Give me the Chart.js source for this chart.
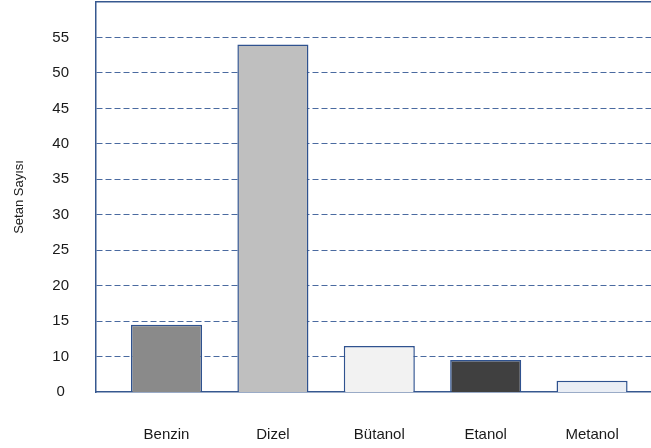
<!DOCTYPE html>
<html>
<head>
<meta charset="utf-8">
<script src="https://cdn.jsdelivr.net/npm/chart.js@4"></script>
<style>
  html, body { margin: 0; padding: 0; background: #ffffff; }
  #wrap { width: 651px; height: 448px; }
</style>
</head>
<body>
<div id="wrap"><canvas id="c" width="651" height="448"></canvas></div>
<script>
// Setan sayıları (cetane numbers) of the fuels
const categories = ['Benzin', 'Dizel', 'Bütanol', 'Etanol', 'Metanol'];
const cetaneValues = [14.5, 54, 11.5, 9.5, 6.6];
const barColors = ['#8a8a8a', '#bfbfbf', '#f2f2f2', '#404040', '#eaeef5'];
const yTicks = [5, 10, 15, 20, 25, 30, 35, 40, 45, 50, 55, 60];
// the lowest gridline carries the label "0"
const yTickLabels = ['0', '10', '15', '20', '25', '30', '35', '40', '45', '50', '55', ''];

const lineBlue = '#37588f';
const gridBlue = '#4a6aa0';
const font = 'Liberation Sans, Arial, sans-serif';

const points = cetaneValues.map((v, i) => ({ x: i, y: v }));

new Chart(document.getElementById('c'), {
  type: 'bar',
  data: {
    datasets: [{
      data: points,
      backgroundColor: barColors,
      borderColor: '#2f528f',
      borderWidth: 1.5,
      categoryPercentage: 1,
      barPercentage: 0.668
    }]
  },
  options: {
    responsive: false,
    animation: false,
    devicePixelRatio: 1,
    layout: { padding: { left: 6, top: 2, right: 0, bottom: 4 } },
    plugins: { legend: { display: false }, tooltip: { enabled: false } },
    scales: {
      x: {
        type: 'linear',
        position: 'bottom',
        min: -0.663,
        max: 4.554,
        offset: false,
        afterBuildTicks: (scale) => { scale.ticks = categories.map((_, i) => ({ value: i })); },
        afterFit: (scale) => { scale.height = 52; scale.paddingLeft = 0; scale.paddingRight = 0; },
        grid: { display: false, drawTicks: false },
        border: { display: true, color: lineBlue, width: 1.5 },
        ticks: {
          autoSkip: false,
          maxRotation: 0,
          padding: 34,
          color: '#1a1a1a',
          font: { family: font, size: 15 },
          callback: (v) => categories[v] ?? ''
        }
      },
      xTop: {
        type: 'linear',
        position: 'top',
        offset: false,
        grid: { display: false, drawTicks: false },
        ticks: { display: false },
        border: { display: true, color: lineBlue, width: 1.5 }
      },
      y: {
        type: 'linear',
        min: 5,
        max: 60,
        afterBuildTicks: (scale) => { scale.ticks = yTicks.map(v => ({ value: v })); },
        afterFit: (scale) => { scale.width = 90; scale.paddingTop = 0; scale.paddingBottom = 0; },
        grid: {
          drawTicks: false,
          color: (ctx) => (ctx.tick && (ctx.tick.value === 5 || ctx.tick.value === 60)) ? 'rgba(0,0,0,0)' : gridBlue,
          lineWidth: 1
        },
        border: { display: true, color: lineBlue, width: 1.5, dash: [6, 3] },
        ticks: {
          crossAlign: 'center',
          padding: 27,
          color: '#1a1a1a',
          font: { family: font, size: 15 },
          callback: (v) => yTickLabels[yTicks.indexOf(v)] ?? ''
        },
        title: {
          display: true,
          text: 'Setan Sayısı',
          color: '#1a1a1a',
          padding: { top: 6, bottom: 2 },
          font: { family: font, size: 13 }
        }
      }
    }
  }
});
</script>
</body>
</html>
